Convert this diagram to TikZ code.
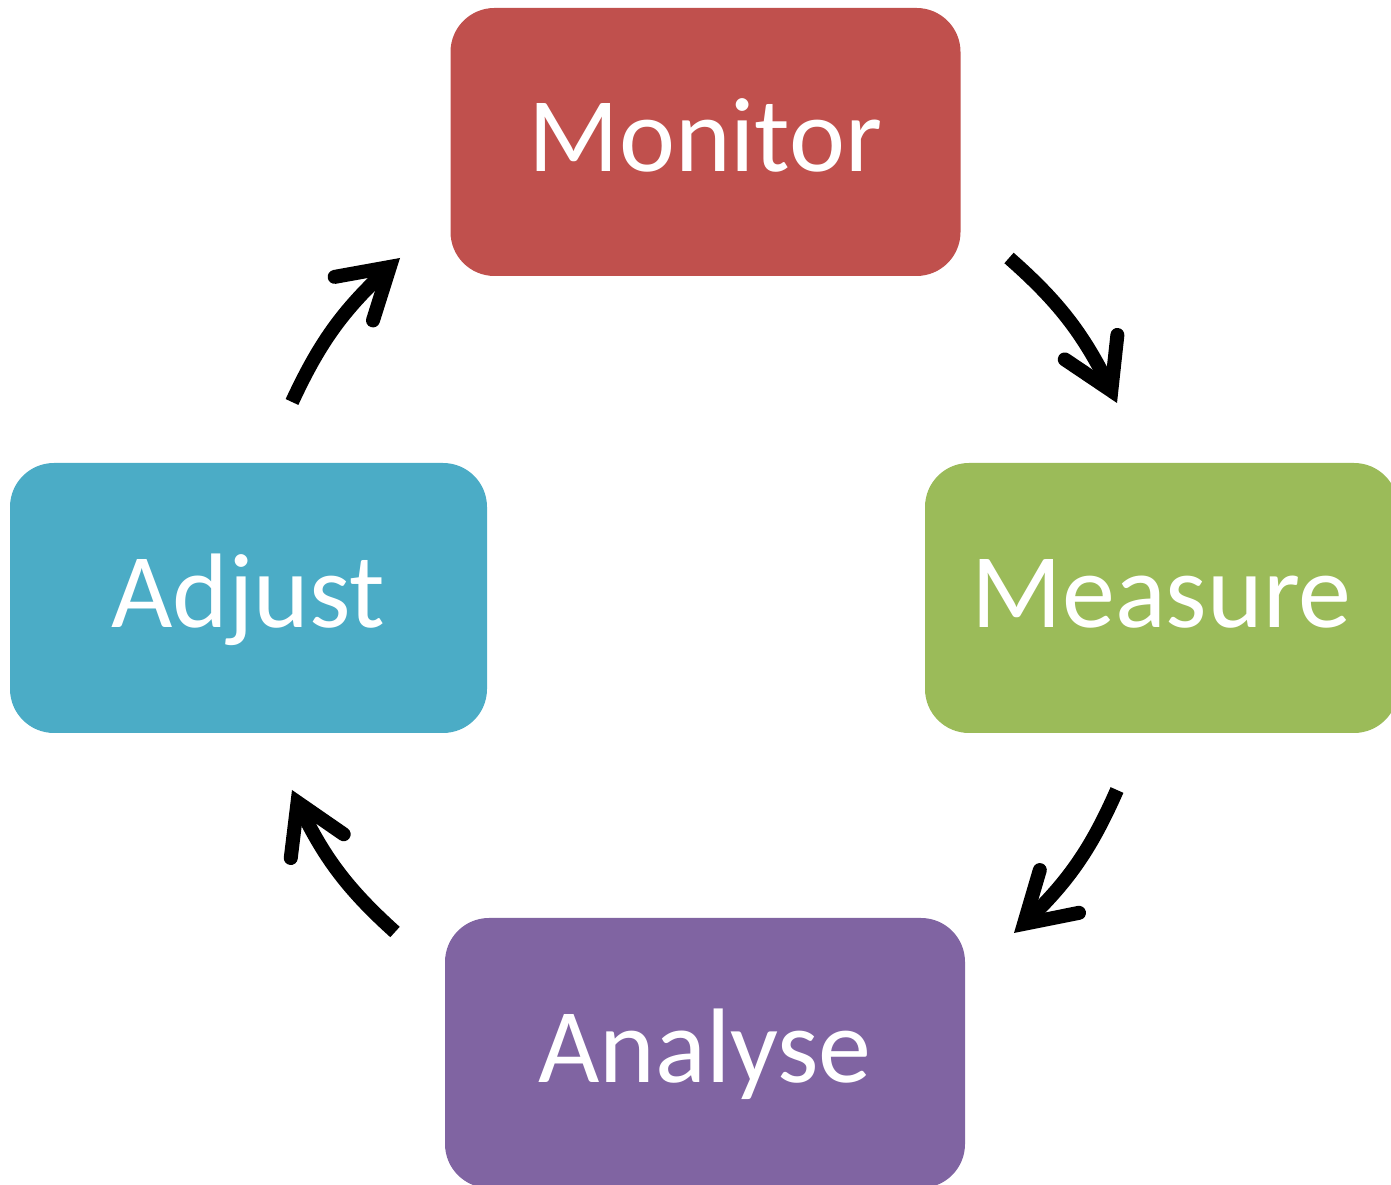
\documentclass[tikz,border=0pt]{standalone}
\usepackage{fontspec}
\setmainfont{Carlito}
\usetikzlibrary{arrows.meta,calc,bending}
\definecolor{cmon}{HTML}{C0504D}
\definecolor{cmea}{HTML}{9BBB59}
\definecolor{cadj}{HTML}{4BACC6}
\definecolor{cana}{HTML}{8064A2}
\tikzset{
  stagebox/.style={rectangle, rounded corners=44pt, draw=none, inner sep=0pt,
    text=white, font=\fontsize{106}{120}\selectfont,
    text height=70pt, text depth=10pt, minimum height=270pt},
  cyclearrow/.style={line width=14pt, line cap=butt,
    -{Straight Barb[length=48pt, width=58pt, line width=14pt, line cap=round, line join=miter]}},
}
\begin{document}
\begin{tikzpicture}[x=1pt,y=1pt]
\useasboundingbox (0,0) rectangle (1391,1185);
\node[stagebox, fill=cmon, minimum width=510pt, minimum height=268pt] (monitor) at (705.5,1043) {Monitor};
\node[stagebox, fill=cmea, minimum width=473pt] (measure) at (1161.5,587) {Measure};
\node[stagebox, fill=cadj, minimum width=477pt] (adjust) at (248.5,587) {Adjust};
\node[stagebox, fill=cana, minimum width=520pt] (analyse) at (705,132) {Analyse};
\coordinate (a1s) at (1009,927);
\coordinate (a1e) at (1117,782);
\coordinate (a2s) at (1117,395);
\coordinate (a2e) at (1014,252);
\coordinate (a3s) at (395,253);
\coordinate (a3e) at (292,395);
\coordinate (a4s) at (292,783);
\coordinate (a4e) at (400,927);
\draw[cyclearrow] (a1s) to[bend left=12] (a1e);
\draw[cyclearrow] (a2s) to[bend left=12] (a2e);
\draw[cyclearrow] (a3s) to[bend left=12] (a3e);
\draw[cyclearrow] (a4s) to[bend left=12] (a4e);
\end{tikzpicture}
\end{document}
